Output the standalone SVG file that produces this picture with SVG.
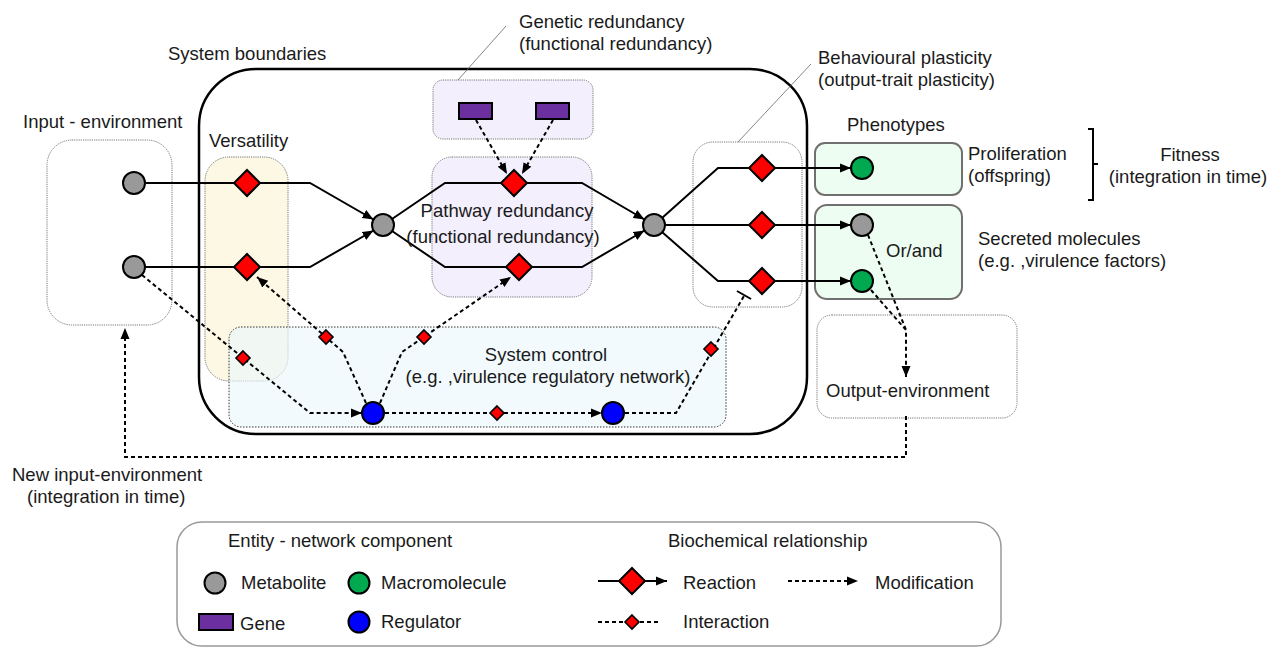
<svg xmlns="http://www.w3.org/2000/svg" width="1269" height="648" viewBox="0 0 1269 648">
<style>
text{font-family:"Liberation Sans",Arial,Helvetica,sans-serif;font-size:18.5px;fill:#1a1a1a}
.mid{text-anchor:middle}
.region{stroke:#777;stroke-width:1;stroke-dasharray:1.2,1}
.met{fill:#999;stroke:#000;stroke-width:2}
.mac{fill:#00a84f;stroke:#000;stroke-width:2}
.reg{fill:#0000ff;stroke:#000;stroke-width:2}
.gene{fill:#6b2fa0;stroke:#000;stroke-width:2}
.rx{fill:#ff0000;stroke:#000;stroke-width:2}
.ix{fill:#ff0000;stroke:#000;stroke-width:1.6}
.solid{fill:none;stroke:#000;stroke-width:2}
.dash{fill:none;stroke:#000;stroke-width:2;stroke-dasharray:4,3}
.leader{fill:none;stroke:#666;stroke-width:0.8}
.pheno{fill:#edfdf2;stroke:#707070;stroke-width:2}
</style>
<defs>
<marker id="arr" markerUnits="userSpaceOnUse" markerWidth="12" markerHeight="10" refX="11" refY="5" orient="auto">
<path d="M0,0.5 L11,5 L0,9.5 z" fill="#000"/>
</marker>
<path id="dia" d="M0,-13 L13,0 L0,13 L-13,0 z"/>
<path id="sdia" d="M0,-7 L7,0 L0,7 L-7,0 z"/>
</defs>

<!-- regions -->
<g id="input-environment">
<rect class="region" x="47" y="140" width="125" height="185" rx="25" fill="none"/>
<text x="23" y="128">Input - environment</text>
</g>
<g id="system-boundaries">
<rect x="199" y="69" width="608" height="365" rx="57" fill="none" stroke="#000" stroke-width="2.5"/>
<text x="168" y="60">System boundaries</text>
</g>
<g id="versatility">
<rect class="region" x="205" y="157" width="83" height="224" rx="24" fill="#fdf8e4"/>
<text x="209" y="147">Versatility</text>
</g>
<g id="system-control">
<rect x="229" y="327" width="497" height="100" rx="12" fill="#ebf8fc" fill-opacity="0.65" stroke="#333" stroke-width="1" stroke-dasharray="1.5,1.5"/>
<text class="mid" x="546" y="361">System control</text>
<text class="mid" x="548" y="383">(e.g. ,virulence regulatory network)</text>
</g>
<g id="genetic-redundancy">
<rect class="region" x="433" y="80" width="160" height="59" rx="10" fill="#f3effd"/>
<line class="leader" x1="458" y1="80" x2="506" y2="26"/>
<text x="519" y="28">Genetic redundancy</text>
<text x="519" y="50">(functional redundancy)</text>
</g>
<g id="pathway-redundancy">
<rect class="region" x="432" y="157" width="160" height="140" rx="20" fill="#f3effd"/>
</g>
<g id="behavioural-plasticity">
<rect class="region" x="693" y="142" width="109" height="165" rx="20" fill="none"/>
<line class="leader" x1="738" y1="142" x2="811" y2="64"/>
<text x="818" y="64">Behavioural plasticity</text>
<text x="818" y="86">(output-trait plasticity)</text>
</g>
<g id="phenotypes">
<text x="847" y="131">Phenotypes</text>
<rect class="pheno" x="815" y="143" width="147" height="52" rx="10"/>
<rect class="pheno" x="815" y="205" width="147" height="94" rx="12"/>
<text x="968" y="160">Proliferation</text>
<text x="968" y="182">(offspring)</text>
<text x="886" y="257">Or/and</text>
<text x="978" y="245">Secreted molecules</text>
<text x="978" y="267">(e.g. ,virulence factors)</text>
</g>
<g id="fitness">
<path d="M1088,129 L1093,129 L1093,200 L1088,200 M1093,164 L1098,164" fill="none" stroke="#000" stroke-width="2"/>
<text class="mid" x="1190" y="161">Fitness</text>
<text class="mid" x="1188" y="183">(integration in time)</text>
</g>
<g id="output-environment">
<rect class="region" x="817" y="315" width="200" height="103" rx="15" fill="none"/>
<text x="826" y="397">Output-environment</text>
</g>
<g id="new-input-label">
<text x="12" y="481">New input-environment</text>
<text x="27" y="503">(integration in time)</text>
</g>

<!-- connectors -->
<g id="connectors">
<path class="solid" d="M145,183 L310,183 L373.5,219.5" marker-end="url(#arr)"/>
<path class="solid" d="M145,267 L310,267 L373.5,230.5" marker-end="url(#arr)"/>
<path class="solid" d="M392,219 L445,183 L582,183 L644.5,219.5" marker-end="url(#arr)"/>
<path class="solid" d="M392,231 L445,267 L582,267 L644.5,230.5" marker-end="url(#arr)"/>
<path class="solid" d="M662,218 L718,168 L851,168" marker-end="url(#arr)"/>
<path class="solid" d="M665,225 L851,225" stroke-width="3" marker-end="url(#arr)"/>
<path class="solid" d="M662,232 L718,281 L851,281" marker-end="url(#arr)"/>
<path class="dash" d="M476,120 L507,174" marker-end="url(#arr)"/>
<path class="dash" d="M553,120 L522,174" marker-end="url(#arr)"/>
<path class="dash" d="M142,275 L310,413 L362,413" marker-end="url(#arr)"/>
<path class="dash" d="M366,403 L343,352 L257,277" marker-end="url(#arr)"/>
<path class="dash" d="M380,403 L402,352 L511,277" marker-end="url(#arr)"/>
<path class="dash" d="M385,413 L602,413" marker-end="url(#arr)"/>
<path class="dash" d="M625,413 L676,413 L744,296"/>
<line x1="737" y1="291" x2="751" y2="299" stroke="#000" stroke-width="2"/>
<path class="dash" d="M868,235 L906,330 M871,290 L906,330 L906,377" marker-end="url(#arr)"/>
<path class="dash" d="M906,416 L906,457 L125,457 L125,328" marker-end="url(#arr)"/>
</g>

<!-- reactions and interactions -->
<g id="reaction-v1"><use href="#dia" class="rx" x="247" y="183"/></g>
<g id="reaction-v2"><use href="#dia" class="rx" x="247" y="267"/></g>
<g id="reaction-p1"><use href="#dia" class="rx" x="514" y="183"/></g>
<g id="reaction-p2"><use href="#dia" class="rx" x="519" y="267"/></g>
<g id="reaction-o1"><use href="#dia" class="rx" x="762" y="168"/></g>
<g id="reaction-o2"><use href="#dia" class="rx" x="762" y="225"/></g>
<g id="reaction-o3"><use href="#dia" class="rx" x="762" y="281"/></g>
<g id="interaction-1"><use href="#sdia" class="ix" x="243" y="358"/></g>
<g id="interaction-2"><use href="#sdia" class="ix" x="326" y="337"/></g>
<g id="interaction-3"><use href="#sdia" class="ix" x="424" y="337"/></g>
<g id="interaction-4"><use href="#sdia" class="ix" x="497" y="413"/></g>
<g id="interaction-5"><use href="#sdia" class="ix" x="711" y="349"/></g>

<!-- entities -->
<g id="metabolite-in1"><circle class="met" cx="134" cy="183" r="11"/></g>
<g id="metabolite-in2"><circle class="met" cx="134" cy="267" r="11"/></g>
<g id="metabolite-mid1"><circle class="met" cx="383" cy="225" r="11"/></g>
<g id="metabolite-mid2"><circle class="met" cx="654" cy="225" r="11"/></g>
<g id="metabolite-out"><circle class="met" cx="862" cy="225" r="11"/></g>
<g id="macromolecule-1"><circle class="mac" cx="862" cy="168" r="11"/></g>
<g id="macromolecule-2"><circle class="mac" cx="862" cy="281" r="11"/></g>
<g id="regulator-1"><circle class="reg" cx="373" cy="413" r="11"/></g>
<g id="regulator-2"><circle class="reg" cx="613" cy="413" r="11"/></g>
<g id="gene-1"><rect class="gene" x="459" y="103" width="33" height="16"/></g>
<g id="gene-2"><rect class="gene" x="536" y="103" width="33" height="16"/></g>
<g id="pathway-label">
<text class="mid" x="507" y="217">Pathway redundancy</text>
<text class="mid" x="503" y="243">(functional redundancy)</text>
</g>

<!-- legend -->
<g id="legend">
<rect x="177" y="522" width="824" height="124" rx="25" fill="#fff" stroke="#999" stroke-width="1.5"/>
<text x="228" y="547">Entity - network component</text>
<circle class="met" cx="215" cy="583" r="10.5"/>
<text x="241" y="589">Metabolite</text>
<circle class="mac" cx="359" cy="583" r="10.5"/>
<text x="381" y="589">Macromolecule</text>
<rect class="gene" x="199" y="614" width="34" height="16"/>
<text x="240" y="630">Gene</text>
<circle class="reg" cx="359" cy="622" r="10.5"/>
<text x="381" y="628">Regulator</text>
<text x="668" y="547">Biochemical relationship</text>
<path class="solid" d="M598,581 L667,581" marker-end="url(#arr)"/>
<use href="#dia" class="rx" x="632" y="581"/>
<text x="683" y="589">Reaction</text>
<path class="dash" d="M788,581 L858,581" stroke-width="1.6" marker-end="url(#arr)"/>
<text x="875" y="589">Modification</text>
<path class="dash" d="M598,622 L661,622" stroke-width="1.6"/>
<use href="#sdia" class="ix" x="632" y="622"/>
<text x="683" y="628">Interaction</text>
</g>
</svg>
